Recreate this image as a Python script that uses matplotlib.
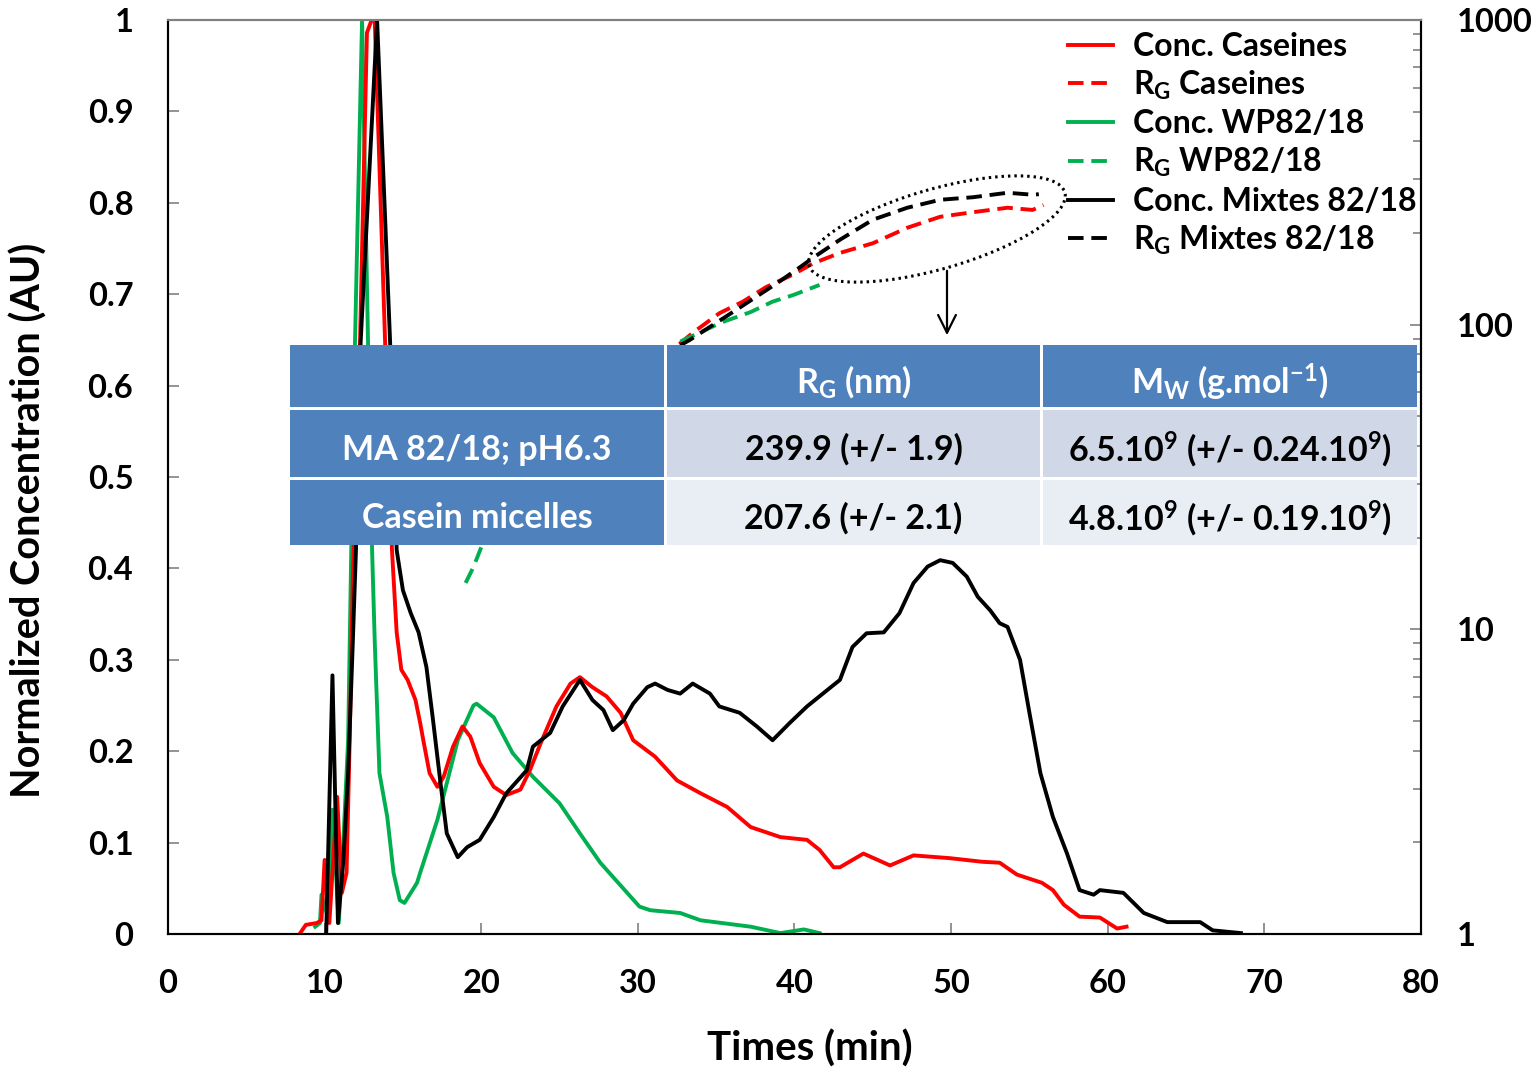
import matplotlib
matplotlib.use('Agg')
import matplotlib.pyplot as plt
from matplotlib.patches import Ellipse, Rectangle
from matplotlib.ticker import LogLocator, NullFormatter, FixedLocator

plt.rcParams['font.family'] = ['Lato', 'DejaVu Sans']
plt.rcParams['font.weight'] = 'bold'
plt.rcParams['mathtext.fontset'] = 'custom'
plt.rcParams['mathtext.rm'] = 'Lato:bold'
plt.rcParams['mathtext.it'] = 'Lato:bold'
plt.rcParams['mathtext.bf'] = 'Lato:bold'
plt.rcParams['mathtext.default'] = 'rm'

# ---------------- data ----------------
cas_t = [8.4, 8.8, 9.5, 9.8, 10.0, 10.3, 10.8, 11.1, 11.4, 11.6, 11.8, 12.26, 12.7, 13.0, 13.2,
         13.86, 14.3, 14.6, 14.9, 15.3, 15.8, 16.1, 16.3, 16.7, 17.2, 17.6, 18.2, 18.8, 19.3,
         19.9, 20.8, 21.6, 22.5, 23.1, 23.8, 24.8, 25.7, 26.3, 27.1, 28.0, 28.9, 29.7, 31.1,
         32.5, 34.0, 35.7, 37.2, 39.1, 40.8, 41.6, 42.5, 42.9, 44.4, 46.1, 47.6, 49.9, 52.0,
         53.1, 54.2, 55.8, 56.5, 57.2, 58.2, 59.5, 60.6, 61.2]
cas_c = [0.0, 0.01, 0.012, 0.015, 0.081, 0.012, 0.15, 0.045, 0.067, 0.212, 0.39, 0.648, 0.986, 1.0, 1.0,
         0.648, 0.42, 0.33, 0.289, 0.278, 0.256, 0.231, 0.212, 0.176, 0.161, 0.172, 0.205, 0.227, 0.216,
         0.187, 0.161, 0.152, 0.158, 0.179, 0.209, 0.249, 0.274, 0.281, 0.27, 0.26, 0.242, 0.212, 0.194,
         0.168, 0.154, 0.139, 0.117, 0.106, 0.103, 0.092, 0.073, 0.073, 0.088, 0.075, 0.086, 0.083, 0.079,
         0.078, 0.065, 0.056, 0.048, 0.032, 0.019, 0.018, 0.006, 0.008]

wp_t = [9.4, 9.7, 9.8, 10.2, 10.5, 10.9, 11.2, 11.5, 11.7, 11.94, 12.39, 12.77, 13.03, 13.2, 13.5,
        14.0, 14.4, 14.8, 15.1, 15.9, 16.1, 17.2, 17.8, 18.5, 19.5, 19.7, 20.8, 22.0, 23.3, 25.0,
        26.3, 27.6, 30.1, 30.8, 32.7, 34.0, 37.2, 39.1, 40.6, 41.6]
wp_c = [0.008, 0.012, 0.043, 0.019, 0.136, 0.012, 0.103, 0.212, 0.42, 0.648, 1.0, 0.648, 0.42, 0.32, 0.176,
        0.128, 0.067, 0.037, 0.034, 0.056, 0.067, 0.125, 0.165, 0.212, 0.25, 0.252, 0.237, 0.198, 0.172, 0.143,
        0.11, 0.078, 0.03, 0.026, 0.023, 0.015, 0.008, 0.001, 0.005, 0.001]

mix_t = [10.1, 10.5, 10.85, 11.2, 11.5, 11.8, 12.0, 12.3, 13.35, 14.18, 14.6, 15.0, 15.5, 16.0,
         16.5, 16.9, 17.4, 17.8, 18.5, 19.1, 19.9, 20.8, 21.6, 22.9, 23.3, 24.4, 25.2, 26.3, 27.1,
         27.8, 28.4, 29.1, 29.7, 30.6, 31.1, 31.9, 32.7, 33.5, 34.6, 35.2, 36.5, 37.6, 38.6, 39.7,
         40.8, 42.1, 42.9, 43.7, 44.6, 45.7, 46.7, 47.6, 48.5, 49.3, 50.1, 51.0, 51.7, 52.5, 53.1,
         53.6, 54.4, 55.0, 55.7, 56.5, 57.4, 58.2, 59.1, 59.5, 61.0, 62.3, 63.8, 65.9, 66.7, 68.5]
mix_c = [0.0, 0.283, 0.012, 0.081, 0.176, 0.32, 0.42, 0.648, 1.0, 0.648, 0.42, 0.376, 0.351, 0.33,
         0.292, 0.237, 0.165, 0.11, 0.084, 0.095, 0.103, 0.128, 0.154, 0.179, 0.205, 0.22, 0.249, 0.278, 0.256,
         0.245, 0.223, 0.234, 0.252, 0.27, 0.274, 0.267, 0.263, 0.274, 0.263, 0.249, 0.242, 0.227, 0.212, 0.231,
         0.249, 0.267, 0.278, 0.314, 0.329, 0.33, 0.351, 0.384, 0.402, 0.409, 0.406, 0.391, 0.369, 0.354, 0.34,
         0.336, 0.3, 0.242, 0.176, 0.128, 0.088, 0.048, 0.043, 0.048, 0.045, 0.023, 0.013, 0.013, 0.004, 0.001]

rg_cas_t = [25.0, 32.6, 33.5, 35.2, 36.7, 38.2, 39.9, 41.2, 42.9, 45.0, 47.2, 49.3, 51.4, 53.6, 55.2, 55.9]
rg_cas = [50, 86, 94, 109, 119, 133, 146, 159, 172, 185, 208, 226, 234, 242, 238, 247]

rg_wp_t = [19.0, 19.5, 20.0, 26.0, 32.7, 35.4, 37.2, 38.6, 39.9, 41.6]
rg_wp = [14.2, 16.0, 18.6, 45, 88, 102, 110, 119, 125, 135]

rg_mix_t = [25.0, 32.6, 33.3, 36.3, 38.9, 40.4, 41.2, 42.9, 45.0, 47.2, 49.3, 51.4, 53.6, 55.2, 55.6]
rg_mix = [50, 85, 89, 112, 137, 155, 166, 190, 221, 242, 257, 262, 271, 267, 268]

x_ticks = [0, 10, 20, 30, 40, 50, 60, 70, 80]
y_ticks = [0, 0.1, 0.2, 0.3, 0.4, 0.5, 0.6, 0.7, 0.8, 0.9, 1]
y_tick_labels = ['0', '0.1', '0.2', '0.3', '0.4', '0.5', '0.6', '0.7', '0.8', '0.9', '1']
y2_ticks = [1, 10, 100, 1000]
y2_tick_labels = ['1', '10', '100', '1000']

table_header = ['', r'R$_{G}$ (nm)', r'M$_{W}$ (g.mol$^{-1}$)']
table_rows = [['MA 82/18; pH6.3', '239.9 (+/- 1.9)', r'6.5.10$^{9}$ (+/- 0.24.10$^{9}$)'],
              ['Casein micelles', '207.6 (+/- 2.1)', r'4.8.10$^{9}$ (+/- 0.19.10$^{9}$)']]

RED = '#FF0000'
GREEN = '#00B050'
BLACK = '#000000'
GRAY = '#808080'

# ---------------- figure ----------------
W, H = 1537, 1073
fig = plt.figure(figsize=(W / 100, H / 100), dpi=100)
L, R, T, B = 168, 1421, 20, 934
ax = fig.add_axes([L / W, 1 - B / H, (R - L) / W, (B - T) / H])
ax2 = ax.twinx()

lw = 2.8
l1, = ax.plot(cas_t, cas_c, color=RED, lw=lw, label='Conc. Caseines', zorder=3)
l3, = ax.plot(wp_t, wp_c, color=GREEN, lw=lw, label='Conc. WP82/18', zorder=2)
l5, = ax.plot(mix_t, mix_c, color=BLACK, lw=lw, label='Conc. Mixtes 82/18', zorder=4)

dash = (4.0, 2.0)
l2, = ax2.plot(rg_cas_t, rg_cas, color=RED, lw=lw, dashes=dash, label=r'R$_{G}$ Caseines')
l4, = ax2.plot(rg_wp_t, rg_wp, color=GREEN, lw=lw, dashes=dash, label=r'R$_{G}$ WP82/18')
l6, = ax2.plot(rg_mix_t, rg_mix, color=BLACK, lw=lw, dashes=dash, label=r'R$_{G}$ Mixtes 82/18')

TICK_FS = 23.5
ax.set_xlim(0, 80)
ax.set_ylim(0, 1)
ax.set_xticks(x_ticks)
ax.set_xticklabels([str(v) for v in x_ticks])
ax.set_yticks(y_ticks)
ax.set_yticklabels(y_tick_labels)
ax.tick_params(axis='both', direction='in', length=8, width=1.2, color=GRAY,
               labelsize=TICK_FS, pad=25)

ax2.set_yscale('log')
ax2.set_ylim(1, 1000)
ax2.yaxis.set_major_locator(FixedLocator(y2_ticks))
ax2.set_yticklabels(y2_tick_labels)
ax2.yaxis.set_minor_locator(LogLocator(base=10, subs=range(2, 10)))
ax2.yaxis.set_minor_formatter(NullFormatter())
ax2.tick_params(axis='y', which='major', direction='in', length=8, width=1.2, color=GRAY,
                labelsize=TICK_FS, pad=26)
ax2.tick_params(axis='y', which='minor', direction='in', length=6, width=1.2, color=GRAY)

for a in (ax, ax2):
    for s in ('left', 'right', 'bottom'):
        a.spines[s].set_color('black')
        a.spines[s].set_linewidth(1.5)
    a.spines['top'].set_color(GRAY)
    a.spines['top'].set_linewidth(1.5)

ax.set_xlabel('Times (min)', fontsize=29, fontweight='bold')
ax.xaxis.set_label_coords((810 - L) / (R - L), -(1030 - B) / (B - T))
ax.set_ylabel('Normalized Concentration (AU)', fontsize=28.5, fontweight='bold')
ax.yaxis.set_label_coords(-(168 - 48) / (R - L), (B - 520) / (B - T))

handles = [l1, l2, l3, l4, l5, l6]
fig.legend(handles=handles, labels=[h.get_label() for h in handles],
           loc='upper left', bbox_to_anchor=(1068 / W, 1 - 32 / H),
           frameon=False, fontsize=23, handlelength=1.4, handletextpad=0.62,
           labelspacing=0.24, borderpad=0, borderaxespad=0)

# ---------------- overlay: ellipse, arrow, table ----------------
ov = fig.add_axes([0, 0, 1, 1])
ov.set_xlim(0, W)
ov.set_ylim(H, 0)
ov.axis('off')
ov.patch.set_alpha(0)

ov.add_patch(Ellipse((937, 229), 266, 80, angle=-16, fill=False, ec='black',
                     lw=2.2, ls=(0, (0.8, 1.3))))
ov.annotate('', xy=(947, 338), xytext=(947, 268),
            arrowprops=dict(arrowstyle='->', lw=1.6, color='black', mutation_scale=32))

cols = [(290, 664), (667, 1040), (1043, 1417)]
rows = [(345, 407), (410, 477), (480, 545)]
BLUE = '#4F81BD'
fills = [[BLUE, BLUE, BLUE], [BLUE, '#D0D8E8', '#D0D8E8'], [BLUE, '#E9EDF4', '#E9EDF4']]
cells = [table_header] + table_rows
ov.add_patch(Rectangle((cols[0][0], rows[0][0]), cols[-1][1] - cols[0][0],
                       rows[-1][1] - rows[0][0], fc='white', ec='none'))
for i, (y0, y1) in enumerate(rows):
    for j, (x0, x1) in enumerate(cols):
        ov.add_patch(Rectangle((x0, y0), x1 - x0, y1 - y0, fc=fills[i][j], ec='none'))
        txt = cells[i][j]
        if txt:
            col = 'white' if fills[i][j] == BLUE else 'black'
            ov.text((x0 + x1) / 2, (y0 + y1) / 2 + 6, txt, ha='center', va='center',
                    fontsize=24.5, fontweight='bold', color=col)

fig.savefig('out.png', dpi=100)
